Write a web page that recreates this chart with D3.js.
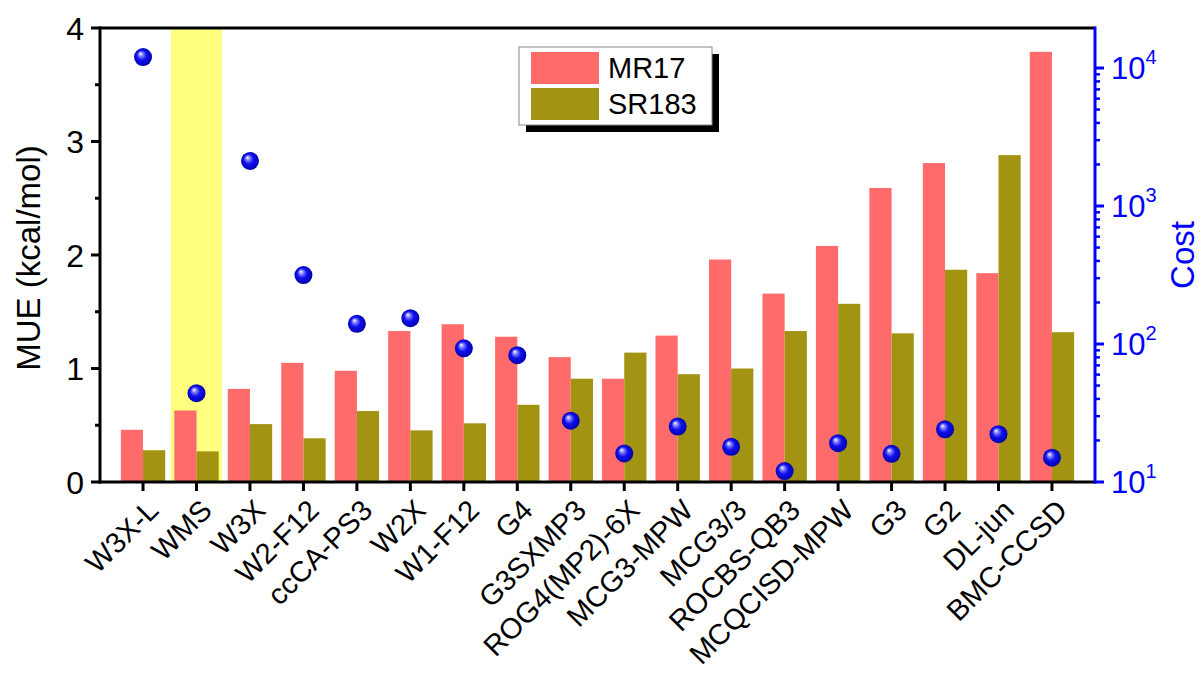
<!DOCTYPE html>
<html>
<head>
<meta charset="utf-8">
<script src="https://cdn.jsdelivr.net/npm/d3@7"></script>
<style>
  body { margin: 0; background: #fff; }
  svg { display: block; font-family: "Liberation Sans", Arial, sans-serif; }
</style>
</head>
<body>
<svg id="chart" width="1201" height="673"></svg>
<script>
const categories = ["W3X-L","WMS","W3X","W2-F12","ccCA-PS3","W2X","W1-F12","G4","G3SXMP3","ROG4(MP2)-6X","MCG3-MPW","MCG3/3","ROCBS-QB3","MCQCISD-MPW","G3","G2","DL-jun","BMC-CCSD"];
const mr17 =  [0.46,0.63,0.82,1.05,0.98,1.33,1.39,1.28,1.10,0.91,1.29,1.96,1.66,2.08,2.59,2.81,1.84,3.79];
const sr183 = [0.28,0.27,0.51,0.385,0.625,0.455,0.517,0.68,0.91,1.14,0.95,1.00,1.33,1.57,1.31,1.87,2.88,1.32];
const cost =  [12000,44,2120,316,140,154,93,83,27.8,16.1,25.2,18,12.0,19.1,16.0,24.1,22.2,15.0];
const highlighted = ["WMS"];
const seriesNames = ["MR17","SR183"];
const leftTicks = [0,1,2,3,4];
const rightTicks = [10,100,1000,10000];

const colors = { MR17: "#ff6b6b", SR183: "#a39312" };

const svg = d3.select("#chart");
const L = 100, R = 1095, T = 28, B = 482;

const x = d3.scaleBand().domain(categories).range([L, R]).paddingInner(0).paddingOuter(0.305);
const y = d3.scaleLinear().domain([0, 4]).range([B, T]);
const yR = d3.scaleLog().domain([10, Math.pow(10, 4.29)]).range([B, T]);

const defs = svg.append("defs");
const grad = defs.append("radialGradient").attr("id", "sphere")
  .attr("cx", "50%").attr("cy", "50%").attr("r", "55%").attr("fx", "35%").attr("fy", "30%");
grad.append("stop").attr("offset", "0%").attr("stop-color", "#ffffff");
grad.append("stop").attr("offset", "22%").attr("stop-color", "#8080ff");
grad.append("stop").attr("offset", "50%").attr("stop-color", "#1010f0");
grad.append("stop").attr("offset", "100%").attr("stop-color", "#0000a0");

const step = x.step();
const cx = d => x(d) + x.bandwidth() / 2;

// highlight band
svg.selectAll("rect.hl").data(highlighted).enter().append("rect")
  .attr("x", d => cx(d) - step * 0.48).attr("width", step * 0.955)
  .attr("y", T).attr("height", B - T).attr("fill", "#ffff80");

const barW = step * 0.415;
svg.selectAll("rect.mr").data(categories).enter().append("rect")
  .attr("x", d => cx(d) - barW).attr("width", barW)
  .attr("y", (d, i) => y(mr17[i])).attr("height", (d, i) => B - y(mr17[i]))
  .attr("fill", colors.MR17);
svg.selectAll("rect.sr").data(categories).enter().append("rect")
  .attr("x", d => cx(d)).attr("width", barW)
  .attr("y", (d, i) => y(sr183[i])).attr("height", (d, i) => B - y(sr183[i]))
  .attr("fill", colors.SR183);

// dots
svg.selectAll("circle.c").data(categories).enter().append("circle")
  .attr("cx", d => cx(d)).attr("cy", (d, i) => yR(cost[i])).attr("r", 9)
  .attr("fill", "url(#sphere)");

// frame top
svg.append("line").attr("x1", L).attr("x2", R).attr("y1", T).attr("y2", T)
  .attr("stroke", "#000").attr("stroke-width", 3);

// left axis
const gL = svg.append("g").attr("transform", `translate(${L},0)`);
const minorL = d3.range(0.5, 4, 1);
gL.selectAll("line.mi").data(minorL).enter().append("line")
  .attr("x1", -5).attr("x2", 0).attr("y1", d => y(d)).attr("y2", d => y(d))
  .attr("stroke", "#000").attr("stroke-width", 3);
gL.selectAll("line.ma").data(leftTicks).enter().append("line")
  .attr("x1", -9).attr("x2", 0).attr("y1", d => y(d)).attr("y2", d => y(d))
  .attr("stroke", "#000").attr("stroke-width", 3);
gL.selectAll("text").data(leftTicks).enter().append("text")
  .attr("x", -16).attr("y", d => y(d)).attr("dy", "0.36em")
  .attr("text-anchor", "end").attr("font-size", 32).attr("fill", "#000")
  .text(d => d3.format("d")(d));
gL.append("line").attr("x1", 0).attr("x2", 0).attr("y1", T - 1.5).attr("y2", B + 1.5)
  .attr("stroke", "#000").attr("stroke-width", 3);

// bottom axis
const gB = svg.append("g");
gB.append("line").attr("x1", L - 1.5).attr("x2", R).attr("y1", B).attr("y2", B)
  .attr("stroke", "#000").attr("stroke-width", 3);
gB.selectAll("line.t").data(categories).enter().append("line")
  .attr("x1", d => cx(d)).attr("x2", d => cx(d)).attr("y1", B).attr("y2", B + 9)
  .attr("stroke", "#000").attr("stroke-width", 3);
gB.selectAll("text").data(categories).enter().append("text")
  .attr("transform", d => `translate(${cx(d) + 10},${B + 23}) rotate(-45)`)
  .attr("dy", "0.35em").attr("text-anchor", "end").attr("font-size", 29).attr("fill", "#000")
  .text(d => d);

// right axis (log)
const gR = svg.append("g").attr("transform", `translate(${R},0)`);
const minorR = [];
[10, 100, 1000, 10000].forEach(b => { for (let k = 2; k <= 9; k++) { const v = b * k; if (v <= yR.domain()[1]) minorR.push(v); } });
gR.selectAll("line.mi").data(minorR).enter().append("line")
  .attr("x1", 0).attr("x2", 5).attr("y1", d => yR(d)).attr("y2", d => yR(d))
  .attr("stroke", "#0000ff").attr("stroke-width", 2.5);
gR.selectAll("line.ma").data(rightTicks).enter().append("line")
  .attr("x1", 0).attr("x2", 9).attr("y1", d => yR(d)).attr("y2", d => yR(d))
  .attr("stroke", "#0000ff").attr("stroke-width", 3);
gR.append("line").attr("x1", 0).attr("x2", 0).attr("y1", T - 1.5).attr("y2", B + 1.5)
  .attr("stroke", "#0000ff").attr("stroke-width", 3);
const rt = gR.selectAll("text").data(rightTicks).enter().append("text")
  .attr("x", 16).attr("y", d => yR(d)).attr("dy", "0.36em")
  .attr("font-size", 31).attr("fill", "#0000ff");
rt.append("tspan").text("10");
rt.append("tspan").attr("font-size", 20).attr("dy", "-0.75em").text(d => Math.round(Math.log10(d)));

// axis titles
svg.append("text").attr("transform", `translate(40,${(T + B) / 2 + 3}) rotate(-90)`)
  .attr("text-anchor", "middle").attr("font-size", 33).attr("fill", "#000")
  .text("MUE (kcal/mol)");
svg.append("text").attr("transform", `translate(1194,${(T + B) / 2 + 0}) rotate(-90)`)
  .attr("text-anchor", "middle").attr("font-size", 33).attr("fill", "#0000ff")
  .text("Cost");

// legend
const lg = svg.append("g").attr("transform", "translate(519,47)");
lg.append("rect").attr("x", 7).attr("y", 7).attr("width", 193).attr("height", 78).attr("fill", "#000");
lg.append("rect").attr("x", 0).attr("y", 0).attr("width", 193).attr("height", 78)
  .attr("fill", "#fff").attr("stroke", "#888").attr("stroke-width", 1);
seriesNames.forEach((s, i) => {
  lg.append("rect").attr("x", 12).attr("y", 5 + i * 36).attr("width", 68).attr("height", 32)
    .attr("fill", colors[s]);
  lg.append("text").attr("x", 89).attr("y", 21 + i * 36).attr("dy", "0.36em")
    .attr("font-size", 29).attr("fill", "#000").text(s);
});
</script>
</body>
</html>
